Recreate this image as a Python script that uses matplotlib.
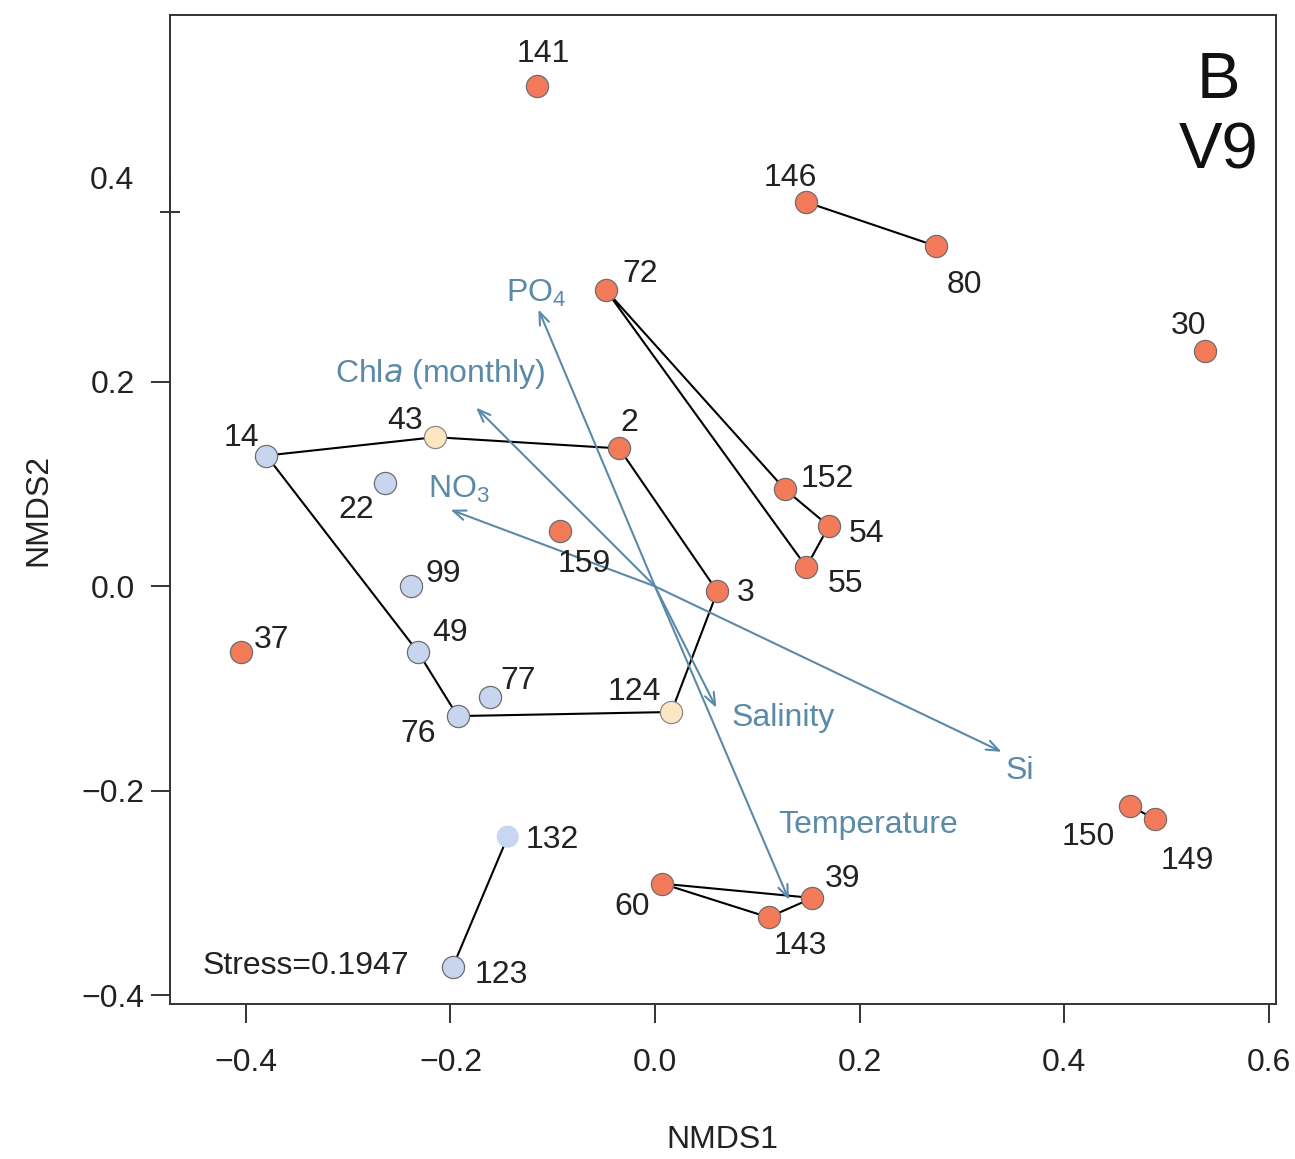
import matplotlib
matplotlib.use("Agg")
import matplotlib.pyplot as plt

plt.rcParams['font.family'] = ['Liberation Sans', 'DejaVu Sans']

# ---------------- data ----------------
sites = ['141', '146', '80', '72', '30', '14', '43', '2', '22', '152', '54', '55',
         '159', '99', '3', '37', '49', '77', '76', '124', '150', '149', '132',
         '60', '39', '143', '123']
nmds1 = [-0.115, 0.148, 0.275, -0.048, 0.538, -0.380, -0.215, -0.035, -0.264, 0.127,
         0.170, 0.148, -0.093, -0.239, 0.061, -0.405, -0.232, -0.161, -0.193, 0.016,
         0.465, 0.489, -0.144, 0.007, 0.154, 0.111, -0.198]
nmds2 = [0.490, 0.376, 0.333, 0.290, 0.230, 0.128, 0.146, 0.135, 0.101, 0.095,
         0.059, 0.019, 0.054, 0.000, -0.005, -0.064, -0.064, -0.108, -0.127, -0.123,
         -0.215, -0.228, -0.245, -0.291, -0.305, -0.324, -0.373]
group = ['o', 'o', 'o', 'o', 'o', 'l', 'b', 'o', 'l', 'o',
         'o', 'o', 'o', 'l', 'o', 'o', 'l', 'l', 'l', 'b',
         'o', 'o', 'p', 'o', 'o', 'o', 'l']

connections = [
    ['146', '80'],
    ['72', '152', '54', '55', '72'],
    ['14', '43', '2', '3', '124', '76', '49', '14'],
    ['150', '149'],
    ['60', '39', '143', '60'],
    ['132', '123'],
]

env_names = ['PO4', 'Chla', 'NO3', 'Si', 'Salinity', 'Temperature']
env_x = [-0.114, -0.175, -0.200, 0.339, 0.060, 0.131]
env_y = [0.271, 0.175, 0.075, -0.162, -0.119, -0.307]
env_text = [r'PO$_{\mathregular{4}}$', r'Chl$\mathit{a}$ (monthly)', r'NO$_{\mathregular{3}}$',
            'Si', 'Salinity', 'Temperature']

stress_text = 'Stress=0.1947'

# ---------------- style ----------------
fill = {'o': '#F47B5A', 'l': '#C8D5EF', 'b': '#FDE7C2', 'p': '#C9D6F1'}
edge = {'o': '#6E6E6E', 'l': '#6E6E6E', 'b': '#8A8A8A', 'p': 'none'}
# label offsets in pixels (dx right, dy down)
lab_off = {'141': (6, -35), '146': (-16, -28), '80': (28, 35), '72': (34, -20),
           '30': (-17, -29), '14': (-25, -21), '43': (-30, -20), '2': (10, -29),
           '22': (-29, 23), '152': (42, -14), '54': (38, 4), '55': (39, 14),
           '159': (24, 29), '99': (33, -16), '3': (28, -2), '37': (31, -15),
           '49': (32, -22), '77': (28, -19), '76': (-40, 14), '124': (-37, -23),
           '150': (-42, 28), '149': (32, 38), '132': (45, 0), '60': (-30, 20),
           '39': (30, -22), '143': (32, 25), '123': (49, 4)}
env_lab_pos = {'PO4': (-0.116, 0.290), 'Chla': (-0.210, 0.212), 'NO3': (-0.192, 0.099),
               'Si': (0.357, -0.177), 'Salinity': (0.125, -0.125),
               'Temperature': (0.208, -0.230)}
env_col = '#5B8AA8'
TXT = '#222222'
FS = 23

fig = plt.figure(figsize=(12.95, 11.59), dpi=100)
ax = fig.add_axes([170 / 1295, 1 - 1004 / 1159, 1106 / 1295, 989 / 1159])
ax.set_xlim(-0.4743, 0.6073)
ax.set_ylim(-0.4088, 0.5592)

pos = {s: (x, y) for s, x, y in zip(sites, nmds1, nmds2)}

for chain in connections:
    ax.plot([pos[s][0] for s in chain], [pos[s][1] for s in chain],
            color='black', lw=1.5, zorder=2, solid_joinstyle='miter')

for name, ex, ey in zip(env_names, env_x, env_y):
    ax.annotate('', xy=(ex, ey), xytext=(0, 0),
                arrowprops=dict(arrowstyle='->,head_length=0.9,head_width=0.35',
                                color=env_col, lw=1.5, shrinkA=0, shrinkB=0),
                zorder=3)
for name, t in zip(env_names, env_text):
    ax.text(*env_lab_pos[name], t, color=env_col, fontsize=FS,
            ha='center', va='center_baseline', zorder=4)

for s, x, y, g in zip(sites, nmds1, nmds2, group):
    ax.scatter([x], [y], s=255, c=fill[g], edgecolors=edge[g],
               linewidths=0.9, zorder=5)
    dx, dy = lab_off[s]
    ax.annotate(s, (x, y), xytext=(dx, -dy), textcoords='offset pixels',
                ha='center', va='center_baseline', fontsize=FS, color=TXT, zorder=6)

ax.text(0.1225, 0.042, stress_text, transform=ax.transAxes, fontsize=FS,
        ha='center', va='center_baseline', color=TXT)
ax.text(0.948, 0.94, 'B', transform=ax.transAxes, fontsize=47,
        ha='center', va='center_baseline', color='#111111')
ax.text(0.948, 0.869, 'V9', transform=ax.transAxes, fontsize=47,
        ha='center', va='center_baseline', color='#111111')

# axes / ticks
for sp in ax.spines.values():
    sp.set_linewidth(1.4)
    sp.set_color('#333333')
ax.set_xticks([-0.4, -0.2, 0.0, 0.2, 0.4, 0.6])
ax.set_xticklabels(['\u22120.4', '\u22120.2', '0.0', '0.2', '0.4', '0.6'])
ax.set_yticks([-0.4, -0.2, 0.0, 0.2])
ax.set_yticklabels(['\u22120.4', '\u22120.2', '0.0', '0.2'])
ax.tick_params(axis='x', direction='out', length=14, width=1.4, pad=18,
               labelsize=FS, color='#333333', labelcolor=TXT)
ax.tick_params(axis='y', direction='out', length=14, width=1.4, pad=27,
               labelsize=FS, color='#333333', labelcolor=TXT)
for lab in ax.get_yticklabels():
    lab.set_horizontalalignment('center')
ax.set_yticks([0.3664], minor=True)
ax.tick_params(axis='y', which='minor', direction='inout', length=14, width=1.4,
               color='#333333')
ax.text(-0.0524, 0.4, '0.4', transform=ax.get_yaxis_transform(), fontsize=FS,
        ha='center', va='center_baseline', color=TXT)
ax.plot([-0.4743, -0.4743], [0.366, 0.40], color='#333333', lw=1.4,
        clip_on=False, zorder=1)

fig.text(722 / 1295, 1 - 1140 / 1159, 'NMDS1', fontsize=FS, ha='center',
         va='center', color=TXT)
fig.text(38 / 1295, 1 - 510 / 1159, 'NMDS2', fontsize=FS, ha='center',
         va='center', rotation=90, color=TXT)

fig.savefig('out.png', dpi=100)
